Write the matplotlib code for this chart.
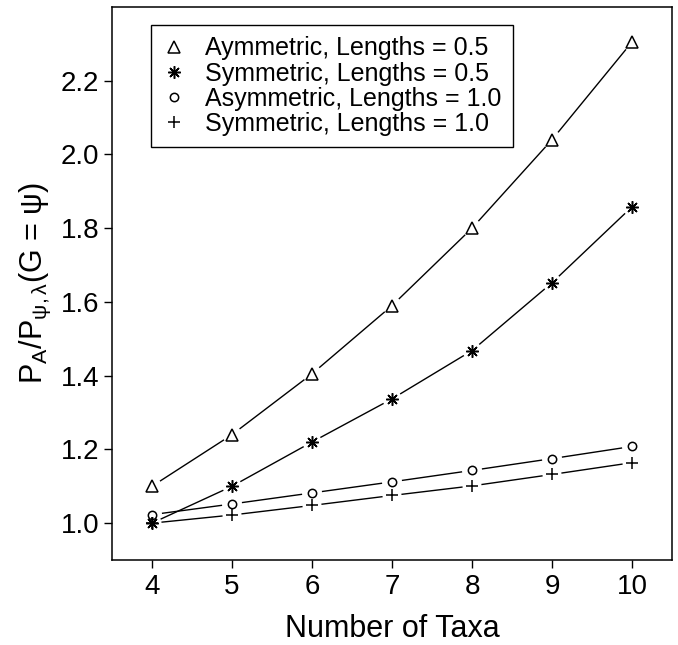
import numpy as np
import matplotlib
matplotlib.use("Agg")
import matplotlib.pyplot as plt
from matplotlib.lines import Line2D
from matplotlib.collections import LineCollection

plt.rcParams["font.family"] = ["Liberation Sans", "DejaVu Sans"]
plt.rcParams["mathtext.fontset"] = "custom"
plt.rcParams["mathtext.rm"] = "Liberation Sans"
plt.rcParams["mathtext.it"] = "Liberation Sans:italic"

# values
taxa = [4, 5, 6, 7, 8, 9, 10]
asym_05 = [1.10, 1.24, 1.405, 1.59, 1.80, 2.04, 2.305]
sym_05 = [1.00, 1.10, 1.22, 1.337, 1.468, 1.652, 1.858]
asym_10 = [1.023, 1.052, 1.082, 1.112, 1.143, 1.175, 1.208]
sym_10 = [1.00, 1.022, 1.048, 1.075, 1.101, 1.132, 1.164]

labels = [
    "Aymmetric, Lengths = 0.5",
    "Symmetric, Lengths = 0.5",
    "Asymmetric, Lengths = 1.0",
    "Symmetric, Lengths = 1.0",
]
yticks = [1.0, 1.2, 1.4, 1.6, 1.8, 2.0, 2.2]

W, H = 678, 645
fig = plt.figure(figsize=(W / 100, H / 100), dpi=100)
ax = fig.add_axes([112 / W, 1 - 560 / H, (672 - 112) / W, (560 - 7) / H])
ax.set_xlim(3.5, 10.5)
ax.set_ylim(0.9, 2.4)

styles = [
    dict(marker="^", markersize=8, mfc="none", mec="black", mew=1.1),
    dict(marker=(8, 2, 0), markersize=9, mec="black", mew=1.1),
    dict(marker="o", markersize=6, mfc="none", mec="black", mew=1.1),
    dict(marker="+", markersize=8, mec="black", mew=1.1),
]
gaps = [9.5, 9.5, 10, 9.5]


def gapped_line(ax, xs, ys, gap):
    # R type="b": segments stop short of the points
    pts = ax.transData.transform(np.column_stack([xs, ys]))
    inv = ax.transData.inverted()
    segs = []
    for p, q in zip(pts[:-1], pts[1:]):
        d = q - p
        L = np.hypot(*d)
        if L <= 2 * gap:
            continue
        u = d / L
        segs.append(inv.transform(np.array([p + u * gap, q - u * gap])))
    ax.add_collection(LineCollection(segs, colors="black", linewidths=1.0))


for ys, st, g in zip([asym_05, sym_05, asym_10, sym_10], styles, gaps):
    gapped_line(ax, taxa, ys, g)
    ax.plot(taxa, ys, linestyle="none", color="black", **st)

ax.set_xticks(taxa)
ax.set_yticks(yticks)
ax.set_yticklabels([f"{v:.1f}" for v in yticks])
ax.tick_params(axis="both", labelsize=20, length=6, width=1.0, direction="out")
ax.tick_params(axis="x", pad=4)
ax.tick_params(axis="y", pad=3)
for s in ax.spines.values():
    s.set_linewidth(1.1)

ax.set_xlabel("Number of Taxa", fontsize=22, labelpad=10)
ax.set_ylabel(r"P$_\mathregular{A}$/P$_\mathregular{ψ,λ}$(G = ψ)", fontsize=22, labelpad=6)

handles = [Line2D([], [], linestyle="none", color="black", **st) for st in styles]
leg = ax.legend(handles, labels, loc="upper left", bbox_to_anchor=(0.07, 0.967),
                borderaxespad=0, fancybox=False, edgecolor="black", framealpha=1,
                fontsize=18, handlelength=0.9, handletextpad=0.8, labelspacing=0.05,
                borderpad=0.45)
leg.get_frame().set_linewidth(1.0)

fig.savefig("out.png", dpi=100)
